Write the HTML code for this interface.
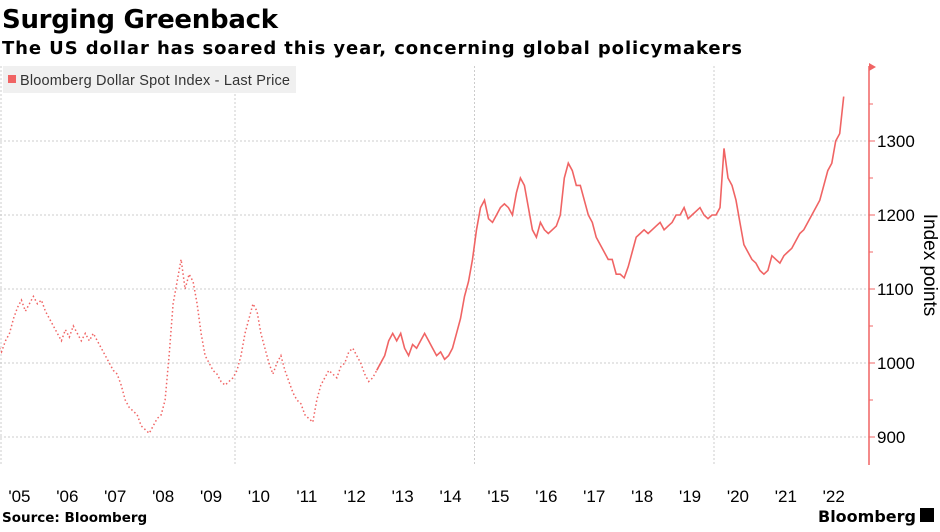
<!DOCTYPE html>
<html><head><meta charset="utf-8"><style>
body{margin:0;background:#fff;width:940px;height:528px;overflow:hidden;font-family:"DejaVu Sans","Liberation Sans",sans-serif}
</style></head><body>
<svg width="940" height="528" id="chart" xmlns="http://www.w3.org/2000/svg">
<text x="2" y="28" font-size="26" font-weight="bold" fill="#000" textLength="276">Surging Greenback</text>
<text x="2" y="54" font-size="18" font-weight="bold" fill="#000" textLength="740" lengthAdjust="spacing">The US dollar has soared this year, concerning global policymakers</text>
<g id="grid"></g>
<g id="series"></g>
<rect x="3" y="66" width="293" height="27" fill="#f0f0f0"/>
<rect x="8" y="75" width="8" height="8" fill="#f06464"/>
<text x="20" y="85" font-size="14.5" fill="#333" font-family="Liberation Sans, sans-serif" textLength="270">Bloomberg Dollar Spot Index - Last Price</text>
<g id="axis"></g>
<g id="xaxis"></g>
<text transform="translate(924,265) rotate(90)" text-anchor="middle" font-size="19" fill="#000" font-family="Liberation Sans, sans-serif">Index points</text>
<text x="2" y="522" font-size="13.5" font-weight="bold" fill="#000">Source: Bloomberg</text>
<text x="818" y="522" font-size="16" font-weight="bold" fill="#000">Bloomberg</text>
<rect x="920" y="508" width="14" height="14" fill="#000"/>
</svg>
<script>
const years=["'05","'06","'07","'08","'09","'10","'11","'12","'13","'14","'15","'16","'17","'18","'19","'20","'21","'22"];
const yTicks=[900,1000,1100,1200,1300];
const startYear=2005;
const values=[
1025,1015,1030,1040,1060,1075,1085,1070,1080,1090,1080,1085,
1070,1060,1050,1040,1030,1045,1035,1050,1040,1030,1040,1030,
1040,1030,1020,1010,1000,990,985,970,950,940,935,930,
915,910,905,915,925,930,950,1010,1080,1110,1140,1100,
1120,1110,1080,1040,1010,1000,990,985,975,970,975,980,
990,1010,1040,1060,1080,1070,1040,1020,1000,985,1000,1010,
990,975,960,950,945,930,925,920,950,970,980,990,
985,980,995,1000,1015,1020,1010,1000,985,975,980,990,
1000,1010,1030,1040,1030,1040,1020,1010,1025,1020,1030,1040,
1030,1020,1010,1015,1005,1010,1020,1040,1060,1090,1110,1140,
1180,1210,1220,1195,1190,1200,1210,1215,1210,1200,1230,1250,
1240,1210,1180,1170,1190,1180,1175,1180,1185,1200,1250,1270,
1260,1240,1240,1220,1200,1190,1170,1160,1150,1140,1140,1120,
1120,1115,1130,1150,1170,1175,1180,1175,1180,1185,1190,1180,
1185,1190,1200,1200,1210,1195,1200,1205,1210,1200,1195,1200,
1200,1210,1290,1250,1240,1220,1190,1160,1150,1140,1135,1125,
1120,1125,1145,1140,1135,1145,1150,1155,1165,1175,1180,1190,
1200,1210,1220,1240,1260,1270,1300,1310,1360];
const NS="http://www.w3.org/2000/svg";
const xs=t=>235+(t-2010)*47.9;
const ys=v=>141+(1300-v)*0.74;
function mk(tag,attrs,parent){const e=document.createElementNS(NS,tag);for(const k in attrs)e.setAttribute(k,attrs[k]);document.getElementById(parent).appendChild(e);return e;}
yTicks.forEach(v=>{
 const l=mk('line',{x1:0,x2:869,y1:ys(v),y2:ys(v),stroke:'#ccc','stroke-dasharray':'2 2'},'grid');
 
 
 const tk=mk('line',{x1:869,x2:875,y1:ys(v),y2:ys(v),stroke:'#f06464'},'axis');
 
 
 const tx=mk('text',{x:877,y:ys(v)+6,'font-size':17,'font-family':'Liberation Sans, sans-serif',fill:'#000'},'axis');
 tx.textContent=v;
 
 
});
[2005,2010,2015,2020].forEach(y=>{
 const x=Math.max(1,xs(y));
 const l=mk('line',{x1:x,x2:x,y1:66,y2:465,stroke:'#ccc','stroke-dasharray':'2 2'},'grid');
 
 
});
const ax=mk('line',{x1:869,x2:869,y1:66,y2:465,stroke:'#f06464','stroke-width':1.5},'axis');


const ar=mk('path',{d:'M869,63 L876,67 L869,71 Z',fill:'#f06464'},'axis');


[950,1050,1150,1250,1350].forEach(v=>{
 const tk=mk('line',{x1:869,x2:873,y1:ys(v),y2:ys(v),stroke:'#f06464'},'axis');
 
 
});
years.forEach((lab,i)=>{
 const t=mk('text',{x:xs(startYear+i+0.5),y:502,'text-anchor':'middle','font-size':17,'font-family':'Liberation Sans, sans-serif',fill:'#000'},'xaxis');
 t.textContent=lab;
 
 
});
let p1='',p2='';
values.forEach((v,i)=>{
 const t=startYear+(i+0.5)/12;
 const pt=xs(t).toFixed(1)+','+ys(v).toFixed(1);
 if(t<2013.1)p1+=(p1?' L':'M')+pt;
 if(t>=2012.95)p2+=(p2?' L':'M')+pt;
});
const s1=mk('path',{d:p1,fill:'none',stroke:'#f06464','stroke-width':1.5,'stroke-dasharray':'1.5 2.5'},'series');


const s2=mk('path',{d:p2,fill:'none',stroke:'#f06464','stroke-width':1.6},'series');


</script>
</body></html>
